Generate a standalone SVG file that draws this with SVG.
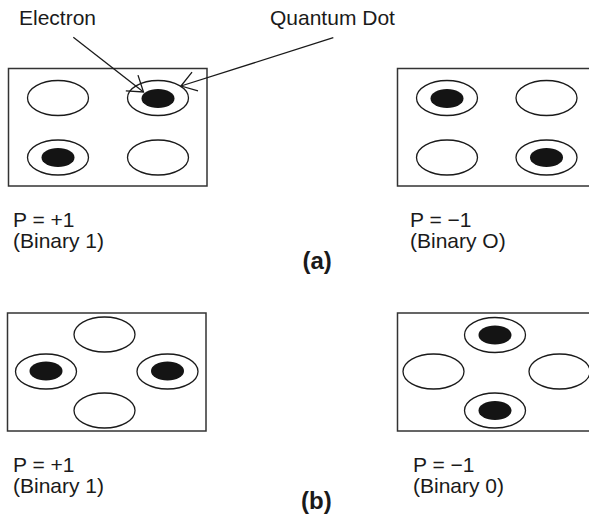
<svg xmlns="http://www.w3.org/2000/svg" width="589" height="518" viewBox="0 0 589 518">
<style>
.frame{fill:#fff;stroke:#333;stroke-width:1.5}
.dot{fill:#fff;stroke:#1a1a1a;stroke-width:1.3}
.e{fill:#141414;stroke:none}
.lbl{font-family:"Liberation Sans",Arial,sans-serif;font-size:21px;fill:#1a1a1a}
.cap{font-family:"Liberation Sans",Arial,sans-serif;font-size:24px;font-weight:bold;fill:#1a1a1a}
.conn{fill:none;stroke:#1a1a1a;stroke-width:1.3}
</style>
<defs>
<marker id="open" markerUnits="userSpaceOnUse" viewBox="-16 -11 17 22" refX="0" refY="0" markerWidth="17" markerHeight="22" orient="auto" overflow="visible">
<path d="M-14.7,-9.9 L0,0 L-14.7,9.9" fill="none" stroke="#1a1a1a" stroke-width="1.3"/>
</marker>
</defs>
<g id="panel-a1">
<rect class="frame" x="8.5" y="68.5" width="198.5" height="117.5"/>
<ellipse class="dot" cx="58" cy="98" rx="30.5" ry="17.5"/>
<ellipse class="dot" cx="158" cy="98" rx="30.5" ry="17.5"/>
<ellipse class="e" cx="158" cy="98.5" rx="16.5" ry="9.5"/>
<ellipse class="dot" cx="58" cy="157.5" rx="30.5" ry="17.5"/>
<ellipse class="e" cx="58" cy="157.5" rx="16.5" ry="9.5"/>
<ellipse class="dot" cx="158" cy="157.5" rx="30.5" ry="17.5"/>
</g>
<g id="panel-a2">
<rect class="frame" x="397.5" y="68.5" width="198.5" height="117.5"/>
<ellipse class="dot" cx="447" cy="98" rx="30.5" ry="17.5"/>
<ellipse class="e" cx="447" cy="98.5" rx="16.5" ry="9.5"/>
<ellipse class="dot" cx="546.5" cy="98" rx="30.5" ry="17.5"/>
<ellipse class="dot" cx="447" cy="157.5" rx="30.5" ry="17.5"/>
<ellipse class="dot" cx="546.5" cy="157.5" rx="30.5" ry="17.5"/>
<ellipse class="e" cx="546.5" cy="157.5" rx="16.5" ry="9.5"/>
</g>
<g id="panel-b1">
<rect class="frame" x="7.5" y="313" width="198.5" height="118"/>
<ellipse class="dot" cx="104.5" cy="334.5" rx="30.5" ry="17.5"/>
<ellipse class="dot" cx="46" cy="371.5" rx="30.5" ry="17.5"/>
<ellipse class="e" cx="46" cy="371" rx="16.5" ry="9.5"/>
<ellipse class="dot" cx="167.5" cy="371.5" rx="30.5" ry="17.5"/>
<ellipse class="e" cx="167.5" cy="371" rx="16.5" ry="9.5"/>
<ellipse class="dot" cx="104.5" cy="410.5" rx="30.5" ry="17.5"/>
</g>
<g id="panel-b2">
<rect class="frame" x="397.5" y="313" width="198.5" height="118"/>
<ellipse class="dot" cx="495" cy="335" rx="30.5" ry="17.5"/>
<ellipse class="e" cx="495" cy="335" rx="16.5" ry="9.5"/>
<ellipse class="dot" cx="433.5" cy="371.5" rx="30.5" ry="17.5"/>
<ellipse class="dot" cx="559.5" cy="371.5" rx="30.5" ry="17.5"/>
<ellipse class="dot" cx="495" cy="410.5" rx="30.5" ry="17.5"/>
<ellipse class="e" cx="495" cy="410.5" rx="16.5" ry="9.5"/>
</g>
<g id="connectors">
<line class="conn" x1="73.3" y1="37.3" x2="143.5" y2="92" marker-end="url(#open)"/>
<line class="conn" x1="333.3" y1="37.7" x2="181" y2="86" marker-end="url(#open)"/>
</g>
<g id="labels">
<text class="lbl" x="19" y="25">Electron</text>
<text class="lbl" x="270" y="25">Quantum Dot</text>
<text class="lbl" x="13" y="227">P = +1</text>
<text class="lbl" x="13" y="248">(Binary 1)</text>
<text class="lbl" x="410" y="227">P = −1</text>
<text class="lbl" x="410" y="248">(Binary O)</text>
<text class="cap" x="302.5" y="269">(a)</text>
<text class="lbl" x="13" y="472">P = +1</text>
<text class="lbl" x="13" y="493">(Binary 1)</text>
<text class="lbl" x="413" y="472">P = −1</text>
<text class="lbl" x="413" y="493">(Binary 0)</text>
<text class="cap" x="301" y="509">(b)</text>
</g>
</svg>
